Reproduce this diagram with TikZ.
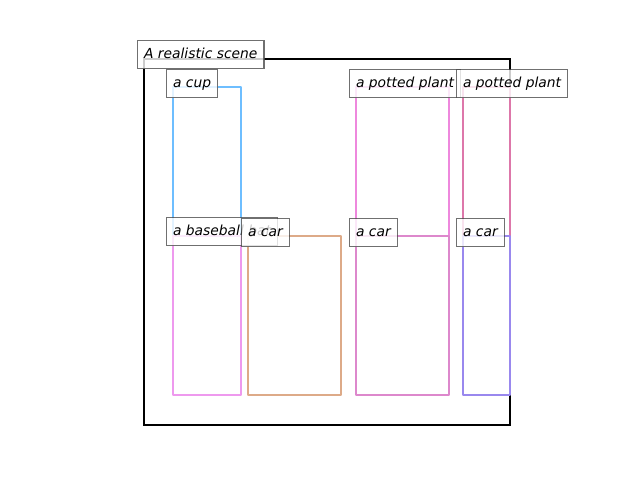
\documentclass[tikz,border=0pt]{standalone}
\usepackage{fontspec}
\setmainfont{DejaVu Sans}
\newfontfamily\labelfont{DejaVu Sans Oblique}
\definecolor{cupcol}{HTML}{6EBEFF}
\definecolor{batcol}{HTML}{EE99EE}
\definecolor{carAcol}{HTML}{DDAA88}
\definecolor{plantAcol}{HTML}{EE88DD}
\definecolor{carBcol}{HTML}{DD88CC}
\definecolor{plantBcol}{HTML}{DD77AA}
\definecolor{carCcol}{HTML}{9988EE}
\tikzset{
  objbox/.style={line width=1.9pt, line join=round},
  framebox/.style={line width=1.5pt, draw=black},
  lbl/.style={anchor=north west, draw=black!70, line width=0.8pt,
    fill=white, fill opacity=0.8, text opacity=1, draw opacity=0.8,
    font=\labelfont\fontsize{10}{12}\selectfont,
    inner xsep=0.065in, inner ysep=0pt, minimum height=0.28in,
    text height=0.75em, text depth=0.22em}
}
\begin{document}
\begin{tikzpicture}[x=0.01in,y=-0.01in]
\useasboundingbox (0,0) rectangle (640,480);
\draw[framebox] (144,59) rectangle (510,425);
\draw[objbox, cupcol] (173,87) rectangle (241,236);
\draw[objbox, batcol] (173,236) rectangle (241,395);
\draw[objbox, carAcol] (248,236) rectangle (341,395);
\draw[objbox, plantAcol] (356,87) rectangle (449,236);
\draw[objbox, carBcol] (356,236) rectangle (449,395);
\draw[objbox, plantBcol] (463,87) rectangle (510,236);
\draw[objbox, carCcol] (463,236) rectangle (510,395);
\node[lbl] (scene) at (137,40) {A realistic scene};
\node[lbl] (cup) at (166,69) {a cup};
\node[lbl] (plantA) at (349,69) {a potted plant};
\node[lbl] (plantB) at (456,69) {a potted plant};
\node[lbl] (bat) at (166,217) {a baseball bat};
\node[lbl] (carA) at (241,218) {a car};
\node[lbl] (carB) at (349,218) {a car};
\node[lbl] (carC) at (456,218) {a car};
\end{tikzpicture}
\end{document}
